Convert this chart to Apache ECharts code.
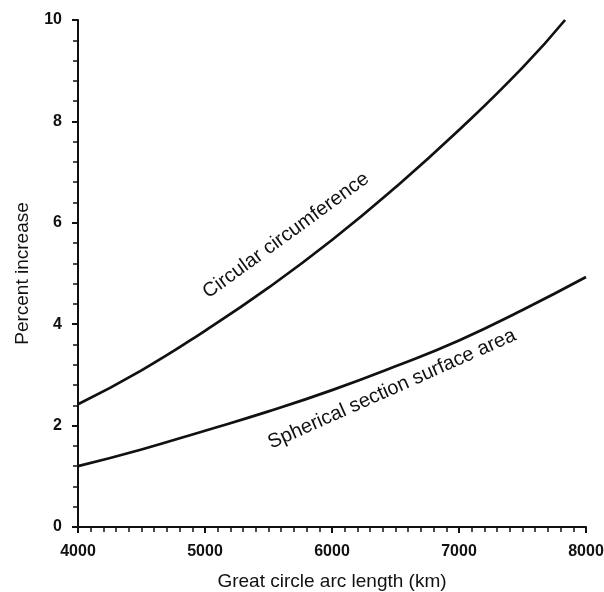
<!DOCTYPE html>
<html><head><meta charset="utf-8">
<script src="https://cdn.jsdelivr.net/npm/echarts@6/dist/echarts.min.js"></script>
<style>html,body{margin:0;padding:0;background:#fff}#c{width:604px;height:592px}</style>
</head><body><div id="c"></div>
<script>
const circX = [4000, 4500, 5000, 5500, 6000, 6500, 7000, 7500, 7835];
const circY = [2.42, 3.09, 3.87, 4.72, 5.66, 6.70, 7.83, 9.06, 10.0];
const sphX = [4000, 4500, 5000, 5500, 6000, 6500, 7000, 7500, 8000];
const sphY = [1.20, 1.53, 1.90, 2.28, 2.70, 3.17, 3.68, 4.28, 4.93];
const circLabel = {text: 'Circular circumference', x: 5638, y: 5.75, rot: 36};
const sphLabel = {text: 'Spherical section surface area', x: 6472, y: 2.72, rot: 24};
const xName = 'Great circle arc length (km)';
const yName = 'Percent increase';

const font = 'Liberation Sans, Arial, sans-serif';
function lbl(l){
  return {symbol:'circle', symbolSize:0, silent:true,
    data:[{coord:[l.x,l.y], value:l.text,
      label:{show:true, formatter:l.text, rotate:l.rot, fontSize:20, color:'#111', fontFamily:font, position:'inside'}}]};
}
const chart = echarts.init(document.getElementById('c'));
chart.setOption({
  animation:false,
  grid:{left:78, right:18, top:20, bottom:65, containLabel:false, outerBoundsMode:'none'},
  xAxis:{type:'value', min:4000, max:8000, interval:1000,
    name:xName, nameLocation:'middle', nameGap:45,
    nameTextStyle:{fontSize:19, color:'#111', fontFamily:font},
    axisLine:{lineStyle:{color:'#111', width:2}},
    axisTick:{show:true, length:6, lineStyle:{color:'#111', width:2}},
    minorTick:{show:true, splitNumber:10, length:5, lineStyle:{color:'#111', width:1.5}},
    axisLabel:{fontSize:16, fontWeight:'bold', color:'#111', fontFamily:font, margin:17, formatter:v=>String(v)},
    splitLine:{show:false}},
  yAxis:{type:'value', min:0, max:10, interval:2,
    name:yName, nameLocation:'middle', nameGap:46,
    nameTextStyle:{fontSize:19, color:'#111', fontFamily:font},
    axisLine:{show:true, lineStyle:{color:'#111', width:2}},
    axisTick:{show:true, length:6, lineStyle:{color:'#111', width:2}},
    minorTick:{show:true, splitNumber:5, length:5, lineStyle:{color:'#111', width:1.5}},
    axisLabel:{fontSize:16, fontWeight:'bold', color:'#111', fontFamily:font, margin:16},
    splitLine:{show:false}},
  series:[
    {type:'line', smooth:true, symbol:'none', data:circX.map((x,i)=>[x,circY[i]]),
     lineStyle:{color:'#111', width:2.7}, markPoint:lbl(circLabel)},
    {type:'line', smooth:true, symbol:'none', data:sphX.map((x,i)=>[x,sphY[i]]),
     lineStyle:{color:'#111', width:2.7}, markPoint:lbl(sphLabel)}
  ]
});
</script></body></html>
